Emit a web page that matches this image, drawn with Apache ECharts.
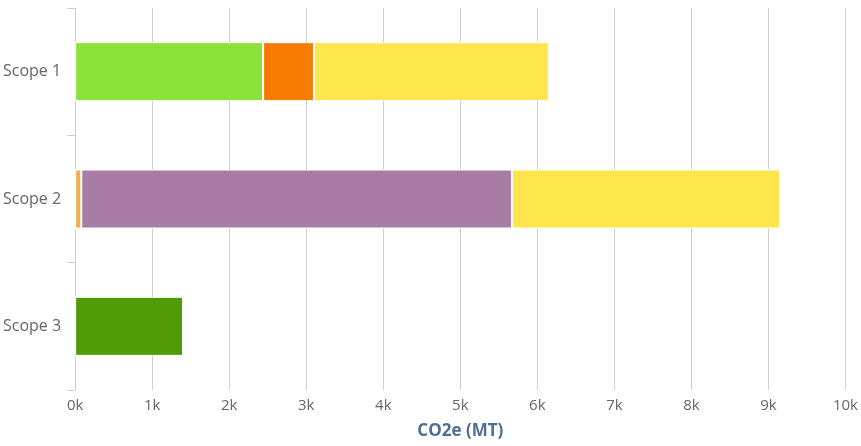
<!DOCTYPE html>
<html><head><meta charset="utf-8">
<script src="https://cdn.jsdelivr.net/npm/echarts@6/dist/echarts.min.js"></script>
<style>html,body{margin:0;padding:0;background:#fff}#c{width:861px;height:446px}</style>
</head><body><div id="c"></div>
<script>
const categories = ["Scope 1", "Scope 2", "Scope 3"];
const tickLabels = ["0k","1k","2k","3k","4k","5k","6k","7k","8k","9k","10k"];
const lightGreen = [2440, 0, 0];
const orange = [660, 0, 0];
const lightOrange = [0, 80, 0];
const purple = [0, 5590, 0];
const yellow = [3050, 3480, 0];
const darkGreen = [0, 0, 1400];

const seriesDefs = [
  ["A", lightGreen, "#8be23a"],
  ["B", orange, "#f57c00"],
  ["C", lightOrange, "#f0b050"],
  ["D", purple, "#a97ca6"],
  ["E", yellow, "#fce64c"],
  ["F", darkGreen, "#4f9a06"]
];

const chart = echarts.init(document.getElementById('c'));
chart.setOption({
  animation: false,
  grid: {left: 74, right: 14, top: 8, bottom: 56},
  xAxis: {
    type: 'value', min: 0, max: 10000, interval: 1000,
    name: 'CO2e (MT)', nameLocation: 'middle', nameGap: 33,
    nameTextStyle: {color: '#4d6e96', fontSize: 17, fontWeight: 'bold', fontFamily: 'Open Sans'},
    axisLine: {show: false}, axisTick: {show: false},
    axisLabel: {color: '#666', fontSize: 15, margin: 8, fontFamily: 'Open Sans',
      formatter: v => tickLabels[Math.round(v / 1000)]},
    splitLine: {show: true, lineStyle: {color: '#cfcfcf', width: 1}}
  },
  yAxis: {
    type: 'category', data: categories, inverse: true,
    axisLine: {show: true, lineStyle: {color: '#c8d0dc'}},
    axisTick: {show: true, length: 8, lineStyle: {color: '#c8d0dc'}},
    axisLabel: {color: '#666', fontSize: 16, margin: 14, fontFamily: 'Open Sans'}
  },
  series: seriesDefs.map(([n, d, c]) => ({
    name: n, type: 'bar', stack: 'total', data: d, barWidth: 59,
    itemStyle: {color: c, borderColor: '#fff', borderWidth: 1}
  }))
});
</script></body></html>
